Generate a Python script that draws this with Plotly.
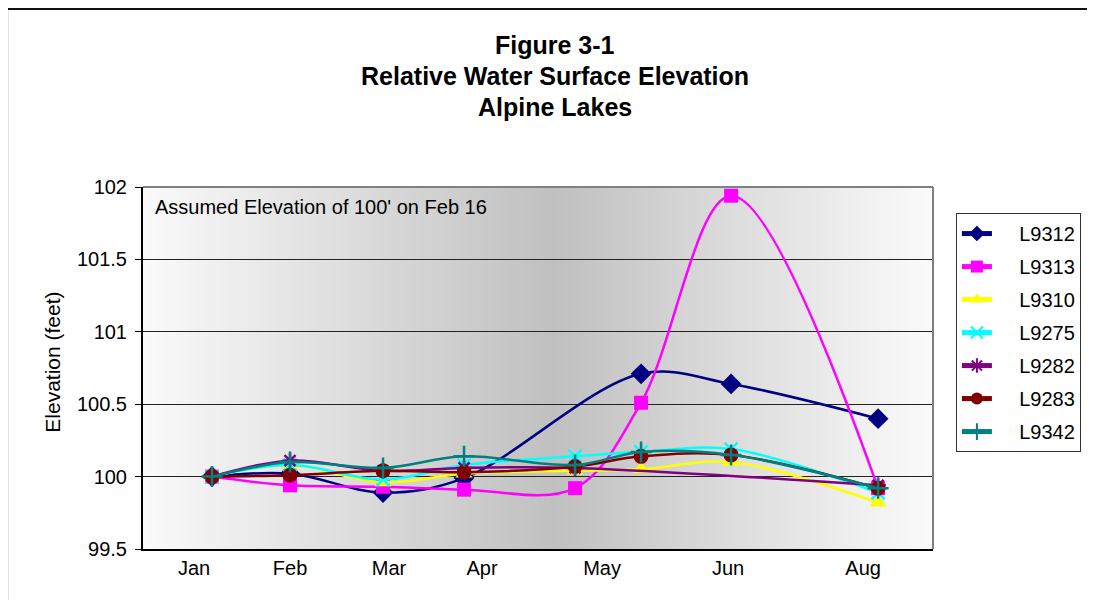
import plotly.graph_objects as go

# ---- data ----
survey_day = [23, 49, 80, 107, 144, 166, 196, 245]
tick_days = [17, 49, 82, 113, 153, 195, 240]
tick_labels = ["Jan", "Feb", "Mar", "Apr", "May", "Jun", "Aug"]

L9312 = [100.0, 100.02, 99.89, 99.99, None, 100.71, 100.64, 100.40]
L9313 = [100.0, 99.94, 99.93, 99.91, 99.92, 100.51, 101.94, 99.92]
L9310 = [100.0, 100.08, 99.96, 100.02, 100.04, 100.05, 100.10, 99.82]
L9275 = [100.0, 100.08, 99.98, 100.08, 100.14, 100.17, 100.19, 99.89]
L9282 = [100.0, 100.11, 100.04, 100.06, 100.06, None, None, 99.94]
L9283 = [100.0, 100.01, 100.04, 100.03, 100.07, 100.14, 100.15, 99.92]
L9342 = [100.0, 100.10, 100.06, 100.14, 100.08, 100.17, 100.15, 99.92]

series = [
    ("L9312", L9312, "#000080", "diamond", 16),
    ("L9313", L9313, "#FF00FF", "square", 14),
    ("L9310", L9310, "#FFFF00", "triangle-up", 15),
    ("L9275", L9275, "#00FFFF", "x-thin-open", 13),
    ("L9282", L9282, "#800080", "asterisk-open", 13),
    ("L9283", L9283, "#800000", "circle", 15),
    ("L9342", L9342, "#008080", "cross-thin-open", 15),
]

FONT = "Liberation Sans, Arial, sans-serif"
PAD = "\u00a0" * 4

fig = go.Figure()
for name, vals, color, sym, size in series:
    thin = sym.endswith("-open")
    fig.add_trace(go.Scatter(
        x=survey_day, y=vals, name=PAD + name, legendgroup=name,
        mode="lines+markers", connectgaps=True,
        line=dict(color=color, width=2.5, shape="spline", smoothing=1.0),
        marker=dict(symbol=sym, size=size, color=color,
                    line=dict(color=color, width=2.5 if thin else 0)),
    ))

# gradient background strips (white -> gray -> white)
shapes = []
n = 120
peak = 0.52
for i in range(n):
    t0 = i / n
    t1 = (i + 1) / n
    t = (t0 + t1) / 2
    if t < peak:
        g = 250 - (250 - 192) * (t / peak)
    else:
        g = 192 + (251 - 192) * ((t - peak) / (1 - peak))
    g = int(round(g))
    shapes.append(dict(type="rect", xref="x domain", yref="y domain",
                       x0=t0, x1=t1 + 0.002, y0=0, y1=1, layer="below",
                       line=dict(width=0), fillcolor=f"rgb({g},{g},{g})"))
# plot area top/right border
shapes.append(dict(type="line", xref="x domain", yref="y domain", x0=0, x1=1, y0=1, y1=1,
                   line=dict(color="#808080", width=2), layer="above"))
shapes.append(dict(type="line", xref="x domain", yref="y domain", x0=1, x1=1, y0=0, y1=1,
                   line=dict(color="#808080", width=2), layer="above"))
# outer chart border
shapes.append(dict(type="rect", xref="paper", yref="paper", x0=-0.172, x1=1.5, y0=-0.5, y1=1.4917,
                   line=dict(color="#111111", width=2), layer="below"))

annotations = [
    dict(text="<b>Figure 3-1</b>", x=0.5215, y=1.392),
    dict(text="<b>Relative Water Surface Elevation</b>", x=0.5215, y=1.307),
    dict(text="<b>Alpine Lakes</b>", x=0.5215, y=1.220),
]
annotations = [dict(a, xref="paper", yref="paper", showarrow=False, xanchor="center", yanchor="middle",
                    font=dict(family=FONT, size=25, color="black")) for a in annotations]
annotations.append(dict(text="Assumed Elevation of 100' on Feb 16", xref="paper", yref="paper",
                        x=0.0127, y=0.9448, xanchor="left", yanchor="middle", showarrow=False,
                        font=dict(family=FONT, size=20, color="black")))
annotations.append(dict(text="Elevation (feet)", xref="paper", yref="paper", x=-0.115, y=0.515,
                        xanchor="center", yanchor="middle", textangle=-90, showarrow=False,
                        font=dict(family=FONT, size=21, color="black")))

fig.update_layout(
    width=1087, height=592,
    margin=dict(l=135, r=162, t=179, b=51),
    paper_bgcolor="white", plot_bgcolor="white",
    font=dict(family=FONT, size=20, color="black"),
    showlegend=True,
    legend=dict(x=1.029, y=0.928, xanchor="left", yanchor="top",
                bordercolor="#333333", borderwidth=1, bgcolor="white",
                font=dict(family=FONT, size=20, color="black"),
                tracegroupgap=4, itemsizing="constant"),
    shapes=shapes,
    annotations=annotations,
    xaxis=dict(range=[0, 263.3], tickmode="array", tickvals=tick_days, ticktext=tick_labels,
               showgrid=False, zeroline=False, showline=True, linecolor="black", linewidth=2,
               ticks="", tickfont=dict(size=20), ticklabelstandoff=0),
    yaxis=dict(range=[99.5, 102], tickmode="array", tickvals=[99.5, 100, 100.5, 101, 101.5, 102],
               ticktext=["99.5", "100", "100.5", "101", "101.5", "102"],
               showgrid=True, gridcolor="#222222", gridwidth=1, zeroline=False,
               showline=True, linecolor="black", linewidth=2,
               ticks="outside", ticklen=6, tickcolor="black", tickwidth=1,
               tickfont=dict(size=20), ticklabelstandoff=4),
)

fig.write_html("out.html")
